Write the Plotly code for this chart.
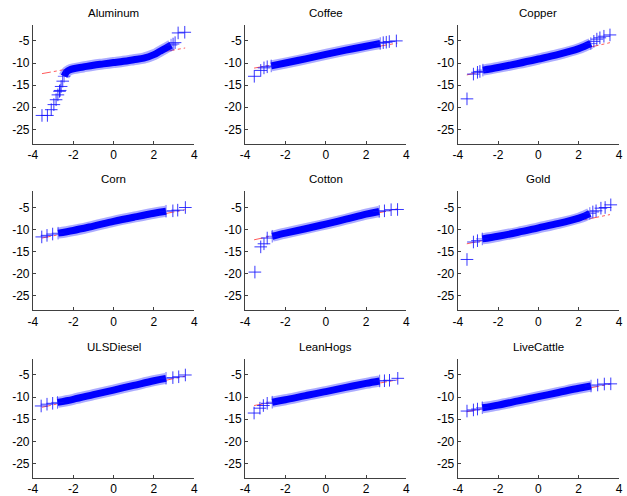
import plotly.graph_objects as go

# ---------------- data ----------------
titles = ["Aluminum", "Coffee", "Copper", "Corn", "Cotton", "Gold",
          "ULSDiesel", "LeanHogs", "LiveCattle"]

x_ticks = [-4, -2, 0, 2, 4]
y_ticks = [-25, -20, -15, -10, -5]
x_range = [-4, 4]
y_range = [-28.2, -1.35]

# dense band of points (theoretical quantile, sample quantile)
aluminum_band_x = [-2.45, -2.36, -2.3, -2.2, -2.0, -1.5, -1.0, -0.5, 0.0, 0.5, 1.0, 1.5, 2.0, 2.3, 2.6, 2.85]
aluminum_band_y = [-13.0, -12.2, -11.9, -11.6, -11.3, -10.9, -10.5, -10.2, -9.9, -9.6, -9.25, -8.9, -8.1, -7.35, -6.6, -5.95]
aluminum_tail_x = [-3.55, -3.28, -3.09, -2.96, -2.85, -2.76, -2.68, -2.65, -2.6, -2.52, 2.95, 3.05, 3.2, 3.53]
aluminum_tail_y = [-21.85, -21.85, -20.55, -19.4, -18.3, -17.2, -16.4, -16.2, -15.3, -14.1, -5.7, -5.4, -3.2, -3.05]
aluminum_ref_y = [-12.4, -6.6]

coffee_band_x = [-2.7, -2.0, -1.0, 0.0, 1.0, 2.0, 2.4, 2.7]
coffee_band_y = [-10.65, -10.0, -9.05, -8.05, -7.1, -6.2, -5.85, -5.6]
coffee_tail_x = [-3.54, -3.22, -3.06, -2.9, 2.85, 3.0, 3.15, 3.5]
coffee_tail_y = [-13.0, -11.67, -11.1, -10.85, -5.4, -5.3, -5.15, -5.0]
coffee_ref_y = [-11.15, -5.5]

copper_band_x = [-2.75, -2.0, -1.0, 0.0, 1.0, 2.0, 2.3, 2.6]
copper_band_y = [-11.6, -11.0, -10.1, -9.1, -8.05, -6.75, -6.2, -5.6]
copper_tail_x = [-3.54, -3.22, -3.02, -2.9, 2.75, 2.9, 3.05, 3.25, 3.55]
copper_tail_y = [-18.1, -12.5, -12.1, -11.9, -5.1, -4.6, -4.3, -3.95, -3.65]
copper_ref_y = [-12.7, -5.4]

corn_band_x = [-2.75, -2.0, -1.0, 0.0, 1.0, 2.0, 2.6]
corn_band_y = [-10.8, -10.2, -9.2, -8.15, -7.2, -6.3, -5.85]
corn_tail_x = [-3.56, -3.3, -3.02, 2.94, 3.18, 3.56]
corn_tail_y = [-11.65, -11.3, -11.0, -5.75, -5.6, -5.0]
corn_ref_y = [-11.9, -5.5]

cotton_band_x = [-2.65, -2.0, -1.0, 0.0, 1.0, 2.0, 2.65]
cotton_band_y = [-11.5, -10.8, -9.8, -8.75, -7.65, -6.5, -5.9]
cotton_tail_x = [-3.51, -3.22, -3.06, -2.9, 2.91, 3.24, 3.56]
cotton_tail_y = [-19.6, -13.9, -13.2, -11.9, -5.75, -5.5, -5.45]
cotton_ref_y = [-12.3, -5.3]

gold_band_x = [-2.78, -2.0, -1.0, 0.0, 1.0, 2.0, 2.3, 2.55]
gold_band_y = [-12.1, -11.5, -10.6, -9.6, -8.6, -7.4, -6.9, -6.35]
gold_tail_x = [-3.54, -3.22, -3.02, 2.7, 2.86, 3.1, 3.31, 3.59]
gold_tail_y = [-16.75, -12.8, -12.5, -6.0, -5.75, -5.15, -5.0, -4.4]
gold_ref_y = [-13.2, -6.6]

ulsdiesel_band_x = [-2.78, -2.0, -1.0, 0.0, 1.0, 2.0, 2.6]
ulsdiesel_band_y = [-11.2, -10.5, -9.45, -8.4, -7.35, -6.3, -5.75]
ulsdiesel_tail_x = [-3.59, -3.3, -3.02, 2.94, 3.23, 3.56]
ulsdiesel_tail_y = [-12.0, -11.6, -11.4, -5.6, -5.4, -5.0]
ulsdiesel_ref_y = [-12.3, -5.25]

leanhogs_band_x = [-2.65, -2.0, -1.0, 0.0, 1.0, 2.0, 2.67]
leanhogs_band_y = [-11.15, -10.6, -9.65, -8.75, -7.8, -6.9, -6.35]
leanhogs_tail_x = [-3.55, -3.26, -3.09, -2.9, 2.91, 3.16, 3.57]
leanhogs_tail_y = [-13.6, -12.5, -11.9, -11.4, -6.3, -6.2, -5.75]
leanhogs_ref_y = [-11.9, -6.1]

livecattle_band_x = [-2.78, -2.0, -1.0, 0.0, 1.0, 2.0, 2.61]
livecattle_band_y = [-12.4, -11.8, -10.85, -9.9, -8.95, -8.0, -7.5]
livecattle_tail_x = [-3.54, -3.22, -3.02, 2.94, 3.27, 3.59]
livecattle_tail_y = [-13.15, -12.9, -12.7, -7.26, -7.04, -7.0]
livecattle_ref_y = [-13.3, -7.05]

ref_x = [-3.55, 3.55]

series = [
    (aluminum_band_x, aluminum_band_y, aluminum_tail_x, aluminum_tail_y, aluminum_ref_y),
    (coffee_band_x, coffee_band_y, coffee_tail_x, coffee_tail_y, coffee_ref_y),
    (copper_band_x, copper_band_y, copper_tail_x, copper_tail_y, copper_ref_y),
    (corn_band_x, corn_band_y, corn_tail_x, corn_tail_y, corn_ref_y),
    (cotton_band_x, cotton_band_y, cotton_tail_x, cotton_tail_y, cotton_ref_y),
    (gold_band_x, gold_band_y, gold_tail_x, gold_tail_y, gold_ref_y),
    (ulsdiesel_band_x, ulsdiesel_band_y, ulsdiesel_tail_x, ulsdiesel_tail_y, ulsdiesel_ref_y),
    (leanhogs_band_x, leanhogs_band_y, leanhogs_tail_x, leanhogs_tail_y, leanhogs_ref_y),
    (livecattle_band_x, livecattle_band_y, livecattle_tail_x, livecattle_tail_y, livecattle_ref_y),
]

# ---------------- layout ----------------
W, H = 627, 496
col_px = [(28.3, 192.0), (243.5, 407.3), (459.3, 623.0)]
row_px = [(25.0, 145.0), (193.3, 313.3), (362.5, 482.5)]

FONT = "Liberation Sans, Arial, Helvetica, sans-serif"
AXC = "#404040"
BLUE = "rgb(0,0,255)"
CROSS = dict(symbol="cross-thin", size=9, color=BLUE,
             line=dict(color="rgba(20,20,255,0.85)", width=1))

fig = go.Figure()
annotations = []
layout_axes = {}

for i, (bx, by, tx, ty, ry) in enumerate(series):
    r, c = divmod(i, 3)
    n = "" if i == 0 else str(i + 1)
    xa, ya = "x" + n, "y" + n
    # reference line
    fig.add_trace(go.Scatter(x=ref_x, y=ry, mode="lines", xaxis=xa, yaxis=ya,
                             line=dict(color="rgb(255,90,90)", width=1, dash="dashdot"),
                             hoverinfo="skip", showlegend=False))
    # dense band of overlapping markers
    fig.add_trace(go.Scatter(x=bx, y=by, mode="lines", xaxis=xa, yaxis=ya,
                             line=dict(color="rgba(90,90,255,0.5)", width=11, shape="spline"),
                             hoverinfo="skip", showlegend=False))
    end_sizes = [9] + [0] * (len(bx) - 2) + [9]
    fig.add_trace(go.Scatter(x=bx, y=by, mode="lines+markers", xaxis=xa, yaxis=ya,
                             line=dict(color=BLUE, width=7, shape="spline"),
                             marker=dict(CROSS, size=end_sizes), showlegend=False))
    # individual points
    fig.add_trace(go.Scatter(x=tx, y=ty, mode="markers", xaxis=xa, yaxis=ya,
                             marker=CROSS, showlegend=False))

    x0, x1 = col_px[c]
    y0, y1 = row_px[r]
    xd = [x0 / W, x1 / W]
    yd = [1 - y1 / H, 1 - y0 / H]
    common = dict(showline=True, linecolor=AXC, linewidth=1, mirror=False,
                  ticks="inside", ticklen=3, tickcolor=AXC, tickwidth=1,
                  showgrid=False, zeroline=False,
                  tickfont=dict(family=FONT, size=12, color="black"))
    layout_axes["xaxis" + n] = dict(domain=xd, range=x_range, tickvals=x_ticks,
                                    ticktext=[str(v) for v in x_ticks],
                                    anchor=ya, **common)
    layout_axes["yaxis" + n] = dict(domain=yd, range=y_range, tickvals=y_ticks,
                                    ticktext=[str(v) for v in y_ticks],
                                    anchor=xa, **common)
    annotations.append(dict(text=titles[i], xref="paper", yref="paper",
                            x=(x0 + x1) / 2 / W, y=1 - (y0 - 12) / H,
                            xanchor="center", yanchor="middle", showarrow=False,
                            font=dict(family=FONT, size=11.5, color="black")))

fig.update_layout(width=W, height=H, margin=dict(l=0, r=0, t=0, b=0),
                  paper_bgcolor="white", plot_bgcolor="white",
                  annotations=annotations, showlegend=False, **layout_axes)

fig.write_html("out.html", config={"displayModeBar": False},
               post_script="document.body.style.margin='0px';")
